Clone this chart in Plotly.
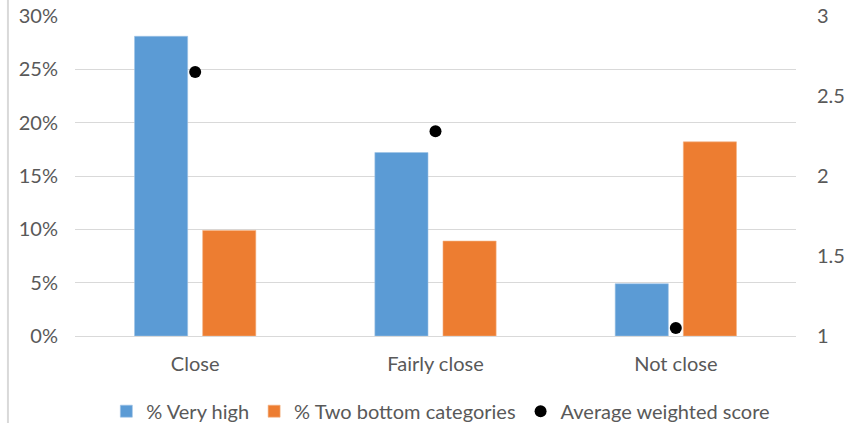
import plotly.graph_objects as go

categories = ["Close", "Fairly close", "Not close"]
very_high = [28.1, 17.2, 4.9]
two_bottom = [9.9, 8.9, 18.2]
avg_score = [2.65, 2.28, 1.05]

font_family = "Lato, 'Open Sans', sans-serif"
grey = "#595959"

fig = go.Figure()
fig.add_trace(go.Bar(x=categories, y=very_high, name="% Very high",
                     marker=dict(color="#5B9BD5", line=dict(color="#9DC3E6", width=0.6))))
fig.add_trace(go.Bar(x=categories, y=two_bottom, name="% Two bottom categories",
                     marker=dict(color="#ED7D31", line=dict(color="#F4B183", width=0.6))))
fig.add_trace(go.Scatter(x=categories, y=avg_score, name="Average weighted score",
                         mode="markers", yaxis="y2",
                         marker=dict(color="black", size=12)))

fig.update_layout(
    width=856, height=423,
    margin=dict(l=75, r=60, t=16, b=87, autoexpand=False),
    paper_bgcolor="white", plot_bgcolor="white",
    font=dict(family=font_family, size=20, color=grey),
    barmode="group", bargap=0.433, bargroupgap=0.22,
    showlegend=True,
    legend=dict(orientation="h", x=0.515, xanchor="center", xref="container",
                y=0.028, yanchor="middle", yref="container",
                font=dict(size=20, color=grey), itemwidth=30, traceorder="normal"),
    xaxis=dict(showgrid=False, showline=False, ticks="", ticklabelstandoff=14),
    yaxis=dict(range=[0, 30], dtick=5, ticksuffix="%", showgrid=True, gridcolor="#D9D9D9",
               gridwidth=1, zeroline=True, zerolinecolor="#D9D9D9", zerolinewidth=1,
               showline=False, ticks="", ticklabelstandoff=16),
    yaxis2=dict(range=[1, 3], dtick=0.5, overlaying="y", side="right", showgrid=False,
                zeroline=False, showline=False, ticks="", ticklabelstandoff=20),
    shapes=[dict(type="line", xref="paper", yref="paper", x0=-0.093, x1=-0.093,
                 y0=-0.3, y1=1.06, line=dict(color="#D9D9D9", width=2))],
)

fig.write_html("out.html")
